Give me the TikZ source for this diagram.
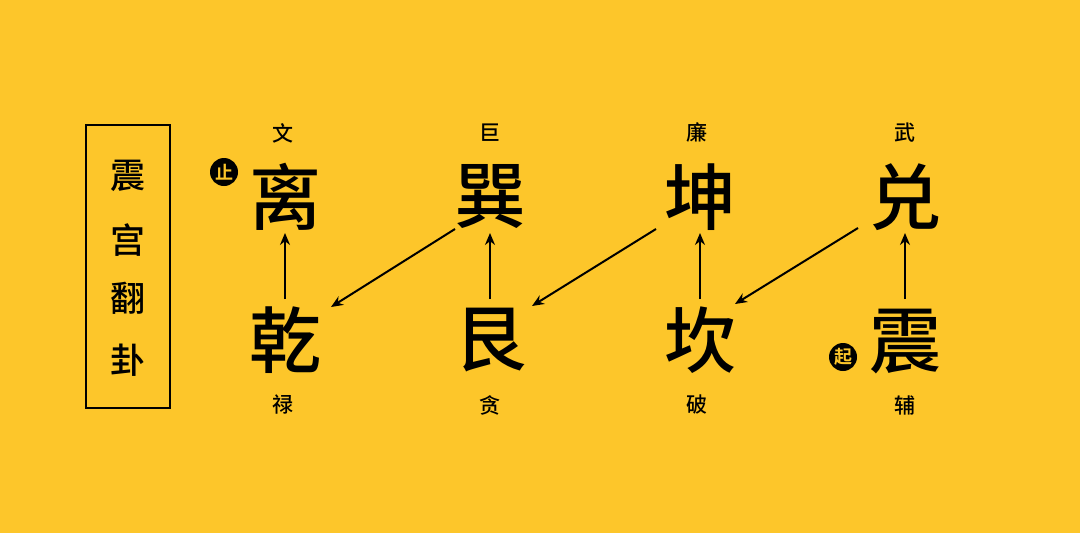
\documentclass[tikz,border=0pt]{standalone}
\usepackage{fontspec}
\usetikzlibrary{arrows.meta}
\newfontfamily\cjk{Noto Sans CJK SC Medium}
\newfontfamily\cjkb{Noto Sans CJK SC Bold}
\definecolor{bgy}{HTML}{FDC62A}
\begin{document}
\begin{tikzpicture}[x=1pt,y=-1pt,
  big/.style={font=\cjk\fontsize{72}{72}\selectfont, inner sep=0pt},
  lab/.style={font=\cjk\fontsize{21}{21}\selectfont, inner sep=0pt},
  side/.style={font=\cjk\fontsize{35}{35}\selectfont, inner sep=0pt},
  badge/.style={circle, fill=black, text=bgy, inner sep=0pt, minimum size=28pt, font=\cjkb\fontsize{18}{18}\selectfont},
  arr/.style={-{Stealth[length=12pt,width=10pt]}, line width=2pt, black}]
\fill[bgy] (0,0) rectangle (1080,533);
\useasboundingbox (0,0) rectangle (1080,533);
% side box
\node[draw=black, line width=1.3pt, minimum width=84pt, minimum height=283pt, inner sep=0pt] (box) at (128,266.5) {};
\node[side] (s1) at (128,176) {震};
\node[side] (s2) at (128,240) {宫};
\node[side] (s3) at (128,298) {翻};
\node[side] (s4) at (128,360) {卦};
% top row
\node[big] (li) at (285,197) {离};
\node[big] (xun) at (490,197) {巽};
\node[big] (kun) at (700,197) {坤};
\node[big] (dui) at (905,197) {兑};
% bottom row
\node[big] (qian) at (285,340) {乾};
\node[big] (gen) at (490,340) {艮};
\node[big] (kan) at (700,340) {坎};
\node[big] (zhen) at (905,342) {震};
% labels
\node[lab] (l1) at (283,133) {文};
\node[lab] (l2) at (490,133) {巨};
\node[lab] (l3) at (697,133) {廉};
\node[lab] (l4) at (905,133) {武};
\node[lab] (b1) at (283,405) {禄};
\node[lab] (b2) at (490,405) {贪};
\node[lab] (b3) at (697,405) {破};
\node[lab] (b4) at (905,405) {辅};
% badges
\node[badge] (stop) at (224,172) {止};
\node[badge] (start) at (843,357) {起};
% arrows
\coordinate (a1s) at (285,299); \coordinate (a1e) at (285,233);
\coordinate (a2s) at (490,299); \coordinate (a2e) at (490,233);
\coordinate (a3s) at (700,299); \coordinate (a3e) at (700,233);
\coordinate (a4s) at (905,299); \coordinate (a4e) at (905,233);
\draw[arr] (a1s) -- (a1e);
\draw[arr] (a2s) -- (a2e);
\draw[arr] (a3s) -- (a3e);
\draw[arr] (a4s) -- (a4e);
\coordinate (d1s) at (455,229); \coordinate (d1e) at (331,307);
\coordinate (d2s) at (656,229); \coordinate (d2e) at (532,306);
\coordinate (d3s) at (858,228); \coordinate (d3e) at (735,304);
\draw[arr] (d1s) -- (d1e);
\draw[arr] (d2s) -- (d2e);
\draw[arr] (d3s) -- (d3e);
\end{tikzpicture}
\end{document}
